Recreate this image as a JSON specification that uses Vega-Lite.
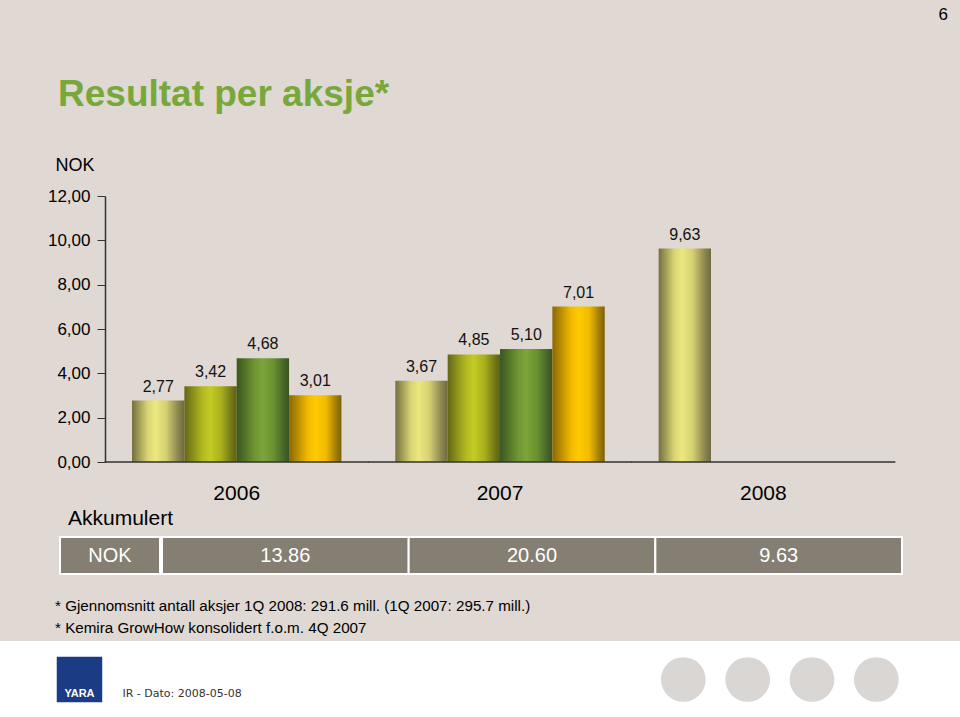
{
  "$schema": "https://vega.github.io/schema/vega-lite/v6.json",
  "background": "#dfd8d3",
  "padding": {"left": 0, "top": 6, "right": 0, "bottom": 0},
  "title": {"text": "6", "anchor": "end", "frame": "bounds", "fontSize": 17, "fontWeight": "normal", "color": "#000000", "dx": -12, "offset": 52},
  "config": {
    "font": "'Liberation Sans', Arial, sans-serif",
    "view": {"stroke": null}
  },
  "datasets": {
    "eps": [
      {"year": "2006", "quarter": "1Q", "eps": 2.77},
      {"year": "2006", "quarter": "2Q", "eps": 3.42},
      {"year": "2006", "quarter": "3Q", "eps": 4.68},
      {"year": "2006", "quarter": "4Q", "eps": 3.01},
      {"year": "2007", "quarter": "1Q", "eps": 3.67},
      {"year": "2007", "quarter": "2Q", "eps": 4.85},
      {"year": "2007", "quarter": "3Q", "eps": 5.10},
      {"year": "2007", "quarter": "4Q", "eps": 7.01},
      {"year": "2008", "quarter": "1Q", "eps": 9.63}
    ],
    "akk": [
      {"year": "2006", "akk": 13.86},
      {"year": "2007", "akk": 20.60},
      {"year": "2008", "akk": 9.63}
    ],
    "dots": [{"dot": 1}, {"dot": 2}, {"dot": 3}, {"dot": 4}],
    "brand": [{"brand": "YARA", "note": "IR - Dato: 2008-05-08"}]
  },
  "spacing": 5,
  "vconcat": [
    {
      "title": {"text": "Resultat per aksje*", "anchor": "start", "frame": "bounds", "fontSize": 37, "fontWeight": "bold", "color": "#78a83a", "dx": 58, "offset": 42},
      "width": 895,
      "height": 266,
      "encoding": {
        "x": {
          "field": "year", "type": "nominal",
          "scale": {"paddingInner": 0, "paddingOuter": 0.1995, "align": 1},
          "axis": {"title": null, "labelAngle": 0, "labelFontSize": 21, "labelColor": "#000000", "ticks": false, "tickSize": 0, "labelPadding": 20, "domain": false}
        }
      },
      "layer": [
        {
          "data": {"name": "eps"},
          "encoding": {
            "xOffset": {"field": "quarter", "type": "nominal", "scale": {"domain": ["1Q", "2Q", "3Q", "4Q"], "paddingInner": 0, "paddingOuter": 0.515}},
            "y": {
              "field": "eps", "type": "quantitative",
              "scale": {"domain": [0, 12], "nice": false},
              "axis": {
                "offset": -105,
                "title": "NOK", "titleAngle": 0, "titleAlign": "left", "titleBaseline": "alphabetic", "titleX": -50, "titleY": -26,
                "titleFontSize": 18, "titleFontWeight": "normal", "titleColor": "#000000",
                "values": [0, 2, 4, 6, 8, 10, 12],
                "labelExpr": "replace(format(datum.value, '.2f'), '.', ',')",
                "labelFontSize": 17, "labelColor": "#000000", "labelPadding": 7, "tickSize": 8,
                "tickColor": "#333333", "domainColor": "#333333", "domainWidth": 1.5, "grid": false
              }
            }
          },
          "layer": [
            {
              "transform": [{"filter": "datum.quarter === '1Q'"}],
              "mark": {"type": "bar", "fill": {"gradient": "linear", "x1": 0, "y1": 0, "x2": 1, "y2": 0, "stops": [
                {"offset": 0, "color": "#74703f"}, {"offset": 0.3, "color": "#d8d574"}, {"offset": 0.45, "color": "#ebe87e"},
                {"offset": 0.65, "color": "#d4d072"}, {"offset": 0.88, "color": "#8c8650"}, {"offset": 1, "color": "#6e6a40"}]}}
            },
            {
              "transform": [{"filter": "datum.quarter === '2Q'"}],
              "mark": {"type": "bar", "fill": {"gradient": "linear", "x1": 0, "y1": 0, "x2": 1, "y2": 0, "stops": [
                {"offset": 0, "color": "#636716"}, {"offset": 0.35, "color": "#b3ba20"}, {"offset": 0.5, "color": "#c3cb24"},
                {"offset": 0.7, "color": "#a9b01e"}, {"offset": 0.9, "color": "#737716"}, {"offset": 1, "color": "#5c5f12"}]}}
            },
            {
              "transform": [{"filter": "datum.quarter === '3Q'"}],
              "mark": {"type": "bar", "fill": {"gradient": "linear", "x1": 0, "y1": 0, "x2": 1, "y2": 0, "stops": [
                {"offset": 0, "color": "#3a5620"}, {"offset": 0.35, "color": "#6f9632"}, {"offset": 0.5, "color": "#7ba53a"},
                {"offset": 0.7, "color": "#6a9230"}, {"offset": 0.9, "color": "#46662a"}, {"offset": 1, "color": "#3a531e"}]}}
            },
            {
              "transform": [{"filter": "datum.quarter === '4Q'"}],
              "mark": {"type": "bar", "fill": {"gradient": "linear", "x1": 0, "y1": 0, "x2": 1, "y2": 0, "stops": [
                {"offset": 0, "color": "#8a6804"}, {"offset": 0.35, "color": "#f0b800"}, {"offset": 0.5, "color": "#ffca00"},
                {"offset": 0.7, "color": "#f2bc00"}, {"offset": 0.9, "color": "#a07c06"}, {"offset": 1, "color": "#7c6008"}]}}
            },
            {
              "mark": {"type": "text", "baseline": "alphabetic", "dy": -9, "fontSize": 16, "color": "#111111",
                "text": {"expr": "replace(format(datum.eps, '.2f'), '.', ',')"}}
            }
          ]
        },
        {
          "data": {"name": "akk"},
          "mark": {"type": "tick", "orient": "horizontal", "size": 264, "thickness": 1.5, "color": "#333333", "opacity": 1},
          "encoding": {"y": {"datum": 0}}
        }
      ]
    },
    {
      "spacing": 23,
      "vconcat": [
        {
          "title": {"text": "Akkumulert", "anchor": "start", "frame": "bounds", "fontSize": 21, "fontWeight": "normal", "color": "#000000", "dx": 68, "offset": 7},
          "spacing": 0,
          "hconcat": [
            {
              "width": 160,
              "height": 37,
              "data": {"values": [{"label": "NOK"}]},
              "encoding": {
                "x": {"field": "label", "type": "nominal", "axis": null, "scale": {"paddingInner": 0, "paddingOuter": 0.3, "align": 1}}
              },
              "layer": [
                {"mark": {"type": "rect", "fill": "#857e73", "stroke": "#ffffff", "strokeWidth": 2}},
                {
                  "mark": {"type": "text", "color": "#ffffff", "fontSize": 20},
                  "encoding": {"text": {"field": "label", "type": "nominal"}}
                }
              ]
            },
            {
              "width": 740,
              "height": 37,
              "data": {"name": "akk"},
              "encoding": {
                "x": {"field": "year", "type": "nominal", "axis": null, "scale": {"paddingInner": 0, "paddingOuter": 0}}
              },
              "layer": [
                {"mark": {"type": "rect", "fill": "#857e73", "stroke": "#ffffff", "strokeWidth": 2}},
                {
                  "mark": {"type": "text", "color": "#ffffff", "fontSize": 20},
                  "encoding": {"text": {"field": "akk", "type": "quantitative", "format": ".2f"}}
                }
              ]
            }
          ]
        },
        {
          "title": {
            "text": ["* Gjennomsnitt antall aksjer 1Q 2008: 291.6 mill. (1Q 2007: 295.7 mill.)", "* Kemira GrowHow konsolidert f.o.m. 4Q 2007"],
            "anchor": "start", "frame": "group", "fontSize": 15.2, "lineHeight": 22,
            "fontWeight": "normal", "color": "#000000", "dx": 55, "offset": 5
          },
          "width": 960,
          "height": 77,
          "view": {"fill": "#ffffff", "stroke": null},
          "resolve": {"scale": {"x": "independent"}},
          "layer": [
            {
              "data": {"name": "dots"},
              "mark": {"type": "circle", "size": 2000, "color": "#d9d6d3", "opacity": 1},
              "encoding": {
                "x": {"field": "dot", "type": "quantitative", "axis": null, "scale": {"domain": [-9.62, 5.3], "nice": false, "zero": false}}
              }
            },
            {
              "data": {"name": "brand"},
              "encoding": {
                "x": {"field": "brand", "type": "nominal", "axis": null, "scale": {"type": "point", "padding": 0.5, "align": 0.0828}}
              },
              "layer": [
                {"mark": {"type": "square", "size": 2070, "color": "#1b3c84", "opacity": 1}},
                {"mark": {"type": "text", "color": "#ffffff", "fontSize": 11, "fontWeight": "bold", "dy": 14}, "encoding": {"text": {"field": "brand", "type": "nominal"}}},
                {"mark": {"type": "text", "color": "#333333", "fontSize": 11, "font": "'DejaVu Sans', sans-serif", "align": "left", "dx": 43, "dy": 14}, "encoding": {"text": {"field": "note", "type": "nominal"}}}
              ]
            }
          ]
        }
      ]
    }
  ]
}
